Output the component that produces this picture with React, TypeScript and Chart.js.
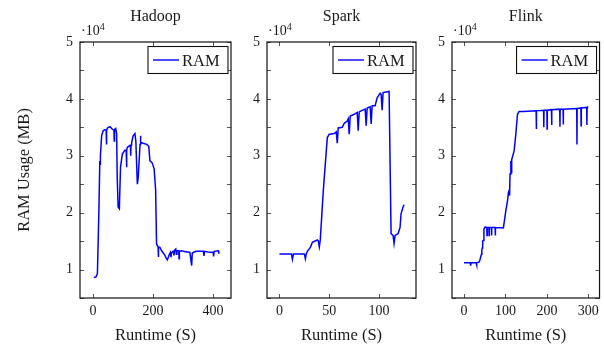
import React, { useEffect, useRef } from 'react';
import { Chart, registerables } from 'chart.js';

Chart.register(...registerables);

// ---------- data ----------
const hadoopTime = [3, 10, 15, 20, 23, 24, 25, 29, 34, 40, 44, 45, 46, 49, 57, 64, 70, 71, 72, 76, 79, 81, 84, 88, 92, 98, 107, 111, 112, 113, 115, 123, 125, 126, 127, 129, 134, 140, 143, 148, 151, 157, 158, 160, 162, 179, 186, 190, 197, 204, 209, 212, 217, 218, 219, 223, 229, 240, 244, 248, 254, 258, 260, 262, 268, 270, 272, 276, 278, 280, 286, 287, 288, 296, 301, 323, 329, 331, 334, 344, 368, 370, 372, 384, 401, 402, 404, 418, 419, 420];
const hadoopRam = [8650, 8700, 9300, 20400, 29100, 28500, 30000, 33500, 34400, 34600, 34500, 32000, 34500, 34900, 35100, 34700, 34500, 32600, 34600, 34800, 33900, 26200, 21000, 20700, 28000, 30300, 31000, 30900, 28000, 31000, 31500, 31800, 31700, 30000, 31900, 32300, 33500, 33900, 32600, 25000, 26200, 32000, 33500, 32300, 32300, 32000, 31700, 29100, 28800, 27700, 23900, 14500, 14000, 12200, 13900, 13900, 13300, 12500, 12000, 11700, 12600, 13000, 12200, 13000, 13200, 12500, 13400, 13600, 12700, 13300, 13300, 11900, 13200, 13300, 13200, 13000, 10700, 12900, 13000, 13200, 13200, 12400, 13200, 13100, 13000, 12300, 13200, 13300, 12800, 13300];

const sparkTime = [0, 12, 13, 14, 25, 26, 27, 28, 31, 33, 38, 39, 40, 41, 44, 48, 50, 55, 57, 58, 59, 63, 65, 68, 69, 70, 71, 74, 78, 79, 80, 82, 86, 87, 88, 91, 92, 93, 96, 98, 101, 102, 103, 104, 110, 112, 114, 115, 116, 119, 121, 122, 124, 125];
const sparkRam = [12750, 12750, 11800, 12750, 12750, 11900, 12800, 13200, 13900, 14800, 15200, 15000, 14000, 15300, 23900, 33200, 33800, 33900, 34200, 32200, 34900, 35000, 35700, 36100, 36500, 33800, 37000, 37200, 37600, 34400, 37700, 37900, 38200, 35300, 38400, 38600, 35600, 38800, 38800, 40200, 41000, 40800, 38000, 41100, 41300, 16300, 16000, 14600, 16000, 16300, 17400, 19800, 21000, 21400];

const flinkTime = [0, 15, 16, 17, 29, 30, 31, 36, 38, 42, 43, 44, 45, 46, 48, 51, 55, 55.5, 56, 60, 60.5, 61, 66, 66.5, 67, 75, 75.5, 76, 95, 101, 105, 107, 109, 110, 111, 113, 114, 115, 121, 125, 129, 133, 144, 174, 174.5, 175, 192, 192.5, 193, 200, 200.5, 201, 211, 211.5, 212, 231, 231.5, 232, 239, 239.5, 240, 272, 272.5, 273, 282, 282.5, 283, 296, 296.5, 297, 298];
const flinkRam = [11200, 11200, 10700, 11200, 11200, 10800, 11200, 11300, 11600, 12700, 13400, 13800, 15000, 15100, 17100, 17500, 17400, 16000, 17400, 17400, 16000, 17400, 17400, 16000, 17400, 17400, 16000, 17400, 17300, 20400, 22100, 23500, 23900, 23000, 26800, 29100, 27000, 29300, 30900, 33800, 37300, 37800, 37800, 37900, 34700, 37900, 38000, 35000, 38000, 38000, 34700, 38000, 38100, 35400, 38100, 38200, 35100, 38200, 38200, 35500, 38200, 38300, 32000, 38300, 38400, 35300, 38400, 38500, 35400, 38500, 38700];

const hadoopXTicks = [0, 200, 400];
const sparkXTicks = [0, 50, 100];
const flinkXTicks = [0, 100, 200, 300];
const yTickValues = [5000, 10000, 15000, 20000, 25000, 30000, 35000, 40000, 45000, 50000];

const panelTitles = ['Hadoop', 'Spark', 'Flink'];
const seriesLabel = 'RAM';
const xTitle = 'Runtime (S)';
const yTitle = 'RAM Usage (MB)';

// ---------- layout ----------
const W = 604;
const H = 348;
const TOP = 42;
const FONT = '"Liberation Serif", "Times New Roman", serif';
const TEXT = '#1a1a1a';

type Panel = {
  title: string;
  time: number[];
  ram: number[];
  xTicks: number[];
  xMin: number;
  xMax: number;
  left: number;
  right: number;
  yTitle: boolean;
};

const panels: Panel[] = [
  { title: panelTitles[0], time: hadoopTime, ram: hadoopRam, xTicks: hadoopXTicks, xMin: -43, xMax: 460, left: 80, right: 231, yTitle: true },
  { title: panelTitles[1], time: sparkTime, ram: sparkRam, xTicks: sparkXTicks, xMin: -12.5, xMax: 137, left: 267, right: 416, yTitle: false },
  { title: panelTitles[2], time: flinkTime, ram: flinkRam, xTicks: flinkXTicks, xMin: -29, xMax: 327, left: 452, right: 602, yTitle: false },
];

const decorPlugin = {
  id: 'decor',
  afterDraw(chart: any, _args: any, opts: any) {
    const { ctx, chartArea: a, scales } = chart;
    ctx.save();
    // inward ticks
    ctx.strokeStyle = '#555';
    ctx.lineWidth = 1;
    ctx.beginPath();
    for (const t of scales.x.ticks) {
      const px = Math.round(scales.x.getPixelForValue(t.value)) + 0.5;
      ctx.moveTo(px, a.bottom);
      ctx.lineTo(px, a.bottom - 4);
      ctx.moveTo(px, a.top);
      ctx.lineTo(px, a.top + 4);
    }
    for (const t of scales.y.ticks) {
      const py = Math.round(scales.y.getPixelForValue(t.value)) + 0.5;
      ctx.moveTo(a.left, py);
      ctx.lineTo(a.left + 4, py);
      ctx.moveTo(a.right, py);
      ctx.lineTo(a.right - 4, py);
    }
    ctx.stroke();
    // frame
    ctx.strokeStyle = '#111';
    ctx.lineWidth = 1.2;
    ctx.strokeRect(a.left, a.top, a.right - a.left, a.bottom - a.top);

    // title
    ctx.fillStyle = TEXT;
    ctx.font = `16px ${FONT}`;
    ctx.textAlign = 'center';
    ctx.textBaseline = 'alphabetic';
    ctx.fillText(opts.title, (a.left + a.right) / 2, 21);

    // multiplier ·10^4
    ctx.textAlign = 'left';
    ctx.font = `14px ${FONT}`;
    const base = '\u00b710';
    ctx.fillText(base, a.left + 1, 35);
    const bw = ctx.measureText(base).width;
    ctx.font = `10px ${FONT}`;
    ctx.fillText('4', a.left + 1 + bw, 30);

    // legend
    const boxW = 80;
    const boxR = a.right - 3;
    const boxL = boxR - boxW;
    const boxT = a.top + 4.5;
    ctx.fillStyle = '#fff';
    ctx.fillRect(boxL, boxT, boxW, 27);
    ctx.strokeStyle = '#111';
    ctx.lineWidth = 1.1;
    ctx.strokeRect(boxL, boxT, boxW, 27);
    const ds = chart.data.datasets[0];
    ctx.strokeStyle = ds.borderColor;
    ctx.lineWidth = 1.4;
    ctx.beginPath();
    ctx.moveTo(boxL + 5, a.top + 18);
    ctx.lineTo(boxL + 31, a.top + 18);
    ctx.stroke();
    ctx.fillStyle = TEXT;
    ctx.font = `16.5px ${FONT}`;
    ctx.fillText(ds.label, boxL + 34, a.top + 23.5);
    ctx.restore();
  },
};

function PanelChart({ p }: { p: Panel }) {
  const ref = useRef<HTMLCanvasElement | null>(null);
  useEffect(() => {
    if (!ref.current) return;
    const yWidth = p.yTitle ? p.left : 20;
    const chart = new Chart(ref.current, {
      type: 'line',
      data: {
        datasets: [
          {
            label: seriesLabel,
            data: p.time.map((t, i) => ({ x: t, y: p.ram[i] })),
            borderColor: '#0000ff',
            borderWidth: 1.5,
            pointRadius: 0,
            tension: 0,
            fill: false,
          },
        ],
      },
      options: {
        responsive: false,
        animation: false,
        devicePixelRatio: 1,
        layout: { padding: { left: p.left - yWidth, right: W - p.right, top: TOP, bottom: 0 } },
        plugins: {
          legend: { display: false },
          tooltip: { enabled: false },
          title: { display: false },
          decor: { title: p.title },
        } as any,
        scales: {
          x: {
            type: 'linear',
            min: p.xMin,
            max: p.xMax,
            afterBuildTicks: (s: any) => {
              s.ticks = p.xTicks.map((v) => ({ value: v }));
            },
            afterFit: (s: any) => {
              s.height = 50;
            },
            grid: { display: false, drawTicks: false },
            border: { display: false },
            ticks: {
              autoSkip: false,
              maxRotation: 0,
              padding: 5,
              color: TEXT,
              font: { family: FONT, size: 14 },
              callback: (v: any) => String(v),
            },
            title: {
              display: true,
              text: xTitle,
              color: TEXT,
              font: { family: FONT, size: 16.5 },
              padding: { top: 0, bottom: 2 },
            },
          },
          y: {
            type: 'linear',
            min: 5000,
            max: 50000,
            afterBuildTicks: (s: any) => {
              s.ticks = yTickValues.map((v) => ({ value: v }));
            },
            afterFit: (s: any) => {
              s.width = yWidth;
            },
            grid: { display: false, drawTicks: false },
            border: { display: false },
            ticks: {
              autoSkip: false,
              padding: 7,
              color: TEXT,
              font: { family: FONT, size: 14 },
              callback: (v: any) => (Number(v) % 10000 === 0 ? String(Number(v) / 10000) : ''),
            },
            title: {
              display: p.yTitle,
              text: yTitle,
              color: TEXT,
              font: { family: FONT, size: 16.5 },
              padding: { top: 15, bottom: 0 },
            },
          },
        },
      },
      plugins: [decorPlugin],
    });
    return () => chart.destroy();
  }, [p]);
  return (
    <canvas
      ref={ref}
      width={W}
      height={H}
      style={{ position: 'absolute', left: 0, top: 0, width: W, height: H }}
    />
  );
}

export default function App() {
  return (
    <div style={{ position: 'fixed', left: 0, top: 0, width: W, height: H, background: '#fff' }}>
      {panels.map((p) => (
        <PanelChart key={p.title} p={p} />
      ))}
    </div>
  );
}
